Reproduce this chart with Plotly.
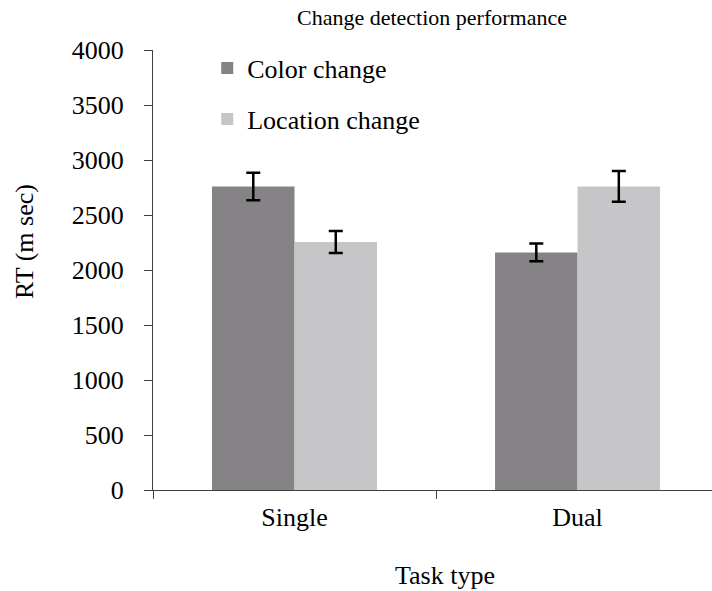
import plotly.graph_objects as go

categories = ["Single", "Dual"]
color_change = [2760, 2160]
color_err = [125, 80]
location_change = [2255, 2760]
location_err = [100, 140]
y_ticks = [0, 500, 1000, 1500, 2000, 2500, 3000, 3500, 4000]

FONT = "Liberation Serif, Times New Roman, serif"
W, H = 712, 591
L, R, T, B = 153, 0, 50, 101
PH = H - T - B
PW = W - L - R

fig = go.Figure()
fig.add_trace(go.Bar(
    x=categories, y=color_change, name="Color change",
    marker=dict(color="#858386", line=dict(width=0)),
    error_y=dict(type="data", array=color_err, visible=True, color="black", thickness=2.5, width=7),
    legendgroup="a",
))
fig.add_trace(go.Bar(
    x=categories, y=location_change, name="Location change",
    marker=dict(color="#c6c5c8", line=dict(width=0)),
    error_y=dict(type="data", array=location_err, visible=True, color="black", thickness=2.5, width=7),
    legendgroup="b",
))

fig.update_layout(
    width=W, height=H,
    margin=dict(l=L, r=R, t=T, b=B, pad=0),
    paper_bgcolor="white", plot_bgcolor="white",
    barmode="group", bargap=0.417, bargroupgap=0,
    font=dict(family=FONT, size=26, color="black"),
    showlegend=True,
    legend=dict(x=0.097, y=1.012, xanchor="left", yanchor="top",
                font=dict(family=FONT, size=26, color="black"), tracegroupgap=14,
                bgcolor="rgba(0,0,0,0)", itemwidth=30),
    xaxis=dict(range=[-0.5, 1.475], showline=True, linecolor="#404040", linewidth=1,
               ticks="outside", tickson="boundaries", ticklen=8, tickcolor="#404040",
               showgrid=False, zeroline=False, ticklabelstandoff=4,
               tickfont=dict(family=FONT, size=26, color="black")),
    yaxis=dict(range=[0, 4000], tickvals=y_ticks, showline=True, linecolor="#404040", linewidth=1,
               ticks="outside", ticklen=8, tickcolor="#404040", showgrid=False, zeroline=False,
               ticklabelstandoff=15, tickfont=dict(family=FONT, size=26, color="black")),
)

fig.add_annotation(text="Change detection performance", xref="paper", yref="paper",
                   x=(432 - L) / PW, y=1 + (T - 18) / PH, xanchor="center", yanchor="middle",
                   showarrow=False, font=dict(family=FONT, size=22, color="black"))
fig.add_annotation(text="Task type", xref="paper", yref="paper",
                   x=(445 - L) / PW, y=-(575 - (H - B)) / PH,
                   xanchor="center", yanchor="middle", showarrow=False,
                   font=dict(family=FONT, size=26, color="black"))
fig.add_annotation(text="RT (m sec)", xref="paper", yref="paper",
                   x=-(L - 24) / PW, y=(H - B - 242) / PH,
                   xanchor="center", yanchor="middle", textangle=-90, showarrow=False,
                   font=dict(family=FONT, size=26, color="black"))

fig.write_html("out.html", config={"displayModeBar": False},
               post_script="document.body.style.margin='0';")
